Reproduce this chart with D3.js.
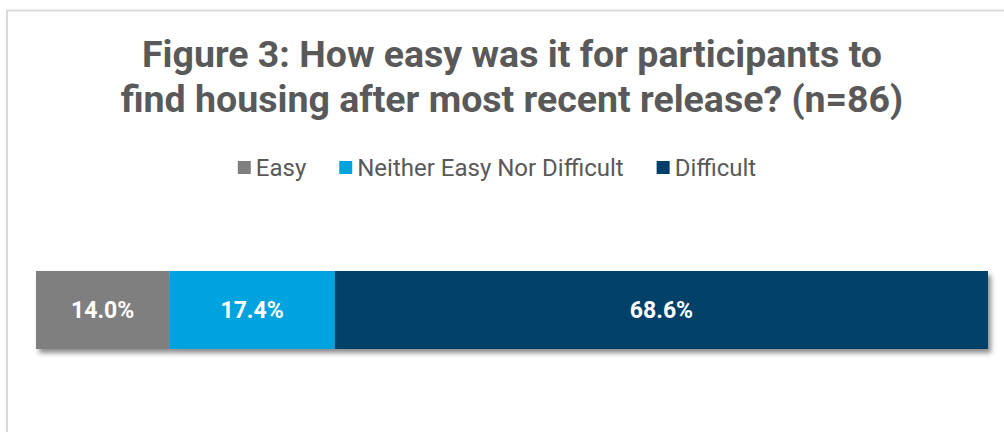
<!DOCTYPE html>
<html>
<head>
<meta charset="utf-8">
<script src="https://cdn.jsdelivr.net/npm/d3@7"></script>
<style>
  html, body { margin: 0; padding: 0; background: #fff; }
  svg { display: block; font-family: Roboto, "Noto Sans", sans-serif; }
</style>
</head>
<body>
<svg id="chart" width="1004" height="432"></svg>
<script>
// Response shares (percent of n=86)
const categories = ["Easy", "Neither Easy Nor Difficult", "Difficult"];
const values = [14.0, 17.4, 68.6];
const colors = ["#7f7f7f", "#00a3de", "#003f69"];
const titleLines = [
  "Figure 3: How easy was it for participants to",
  "find housing after most recent release? (n=86)"
];

const width = 1004, height = 432;
const svg = d3.select("#chart");

// Shadow under the bar
const defs = svg.append("defs");
const f = defs.append("filter").attr("id", "shadow")
  .attr("x", "-5%").attr("y", "-20%").attr("width", "110%").attr("height", "150%");
f.append("feDropShadow").attr("dx", 3).attr("dy", 4).attr("stdDeviation", 2.5)
  .attr("flood-color", "#000").attr("flood-opacity", 0.45);

// Chart frame
svg.append("path")
  .attr("d", `M7,${height} V10.5 H${width}`)
  .attr("fill", "none").attr("stroke", "#d9d9d9").attr("stroke-width", 2);

// Title
svg.append("text")
  .attr("x", 512).attr("y", 67)
  .attr("text-anchor", "middle")
  .attr("font-size", 37.5).attr("font-weight", 700).attr("fill", "#595959")
  .selectAll("tspan").data(titleLines).join("tspan")
  .attr("x", 512).attr("dy", (d, i) => i === 0 ? 0 : 45)
  .text(d => d);

// Legend, laid out from measured label widths and centred
const sw = 13, gap = 5, spacing = 33, legendCx = 497;
const legend = svg.append("g").attr("font-size", 24).attr("fill", "#595959");
const items = legend.selectAll("g").data(categories).join("g");
items.append("rect").attr("x", 0).attr("y", 161).attr("width", sw).attr("height", sw)
  .attr("fill", (d, i) => colors[i]);
items.append("text").attr("x", sw + gap).attr("y", 176).text(d => d);
const widths = [];
items.each(function () { widths.push(sw + gap + d3.select(this).select("text").node().getComputedTextLength()); });
const total = d3.sum(widths) + spacing * (widths.length - 1);
let cx = legendCx - total / 2;
items.attr("transform", (d, i) => {
  const t = `translate(${cx},0)`;
  cx += widths[i] + spacing;
  return t;
});

// Stacked bar
const x = d3.scaleLinear().domain([0, 100]).range([36, 988]);
const y = d3.scaleBand().domain(["all"]).range([271, 349]).padding(0);
const starts = d3.cumsum([0, ...values.slice(0, -1)]);
const segs = values.map((v, i) => ({ v, s: starts[i], c: colors[i] }));

const bar = svg.append("g");
bar.append("g").attr("filter", "url(#shadow)")
  .selectAll("rect").data(segs).join("rect")
  .attr("x", d => x(d.s)).attr("y", y("all"))
  .attr("width", d => x(d.s + d.v) - x(d.s)).attr("height", y.bandwidth())
  .attr("fill", d => d.c);

bar.selectAll("text").data(segs).join("text")
  .attr("x", d => (x(d.s) + x(d.s + d.v)) / 2)
  .attr("y", 318)
  .attr("text-anchor", "middle")
  .attr("font-size", 23).attr("font-weight", 700).attr("fill", "#ffffff")
  .text(d => d.v.toFixed(1) + "%");
</script>
</body>
</html>
